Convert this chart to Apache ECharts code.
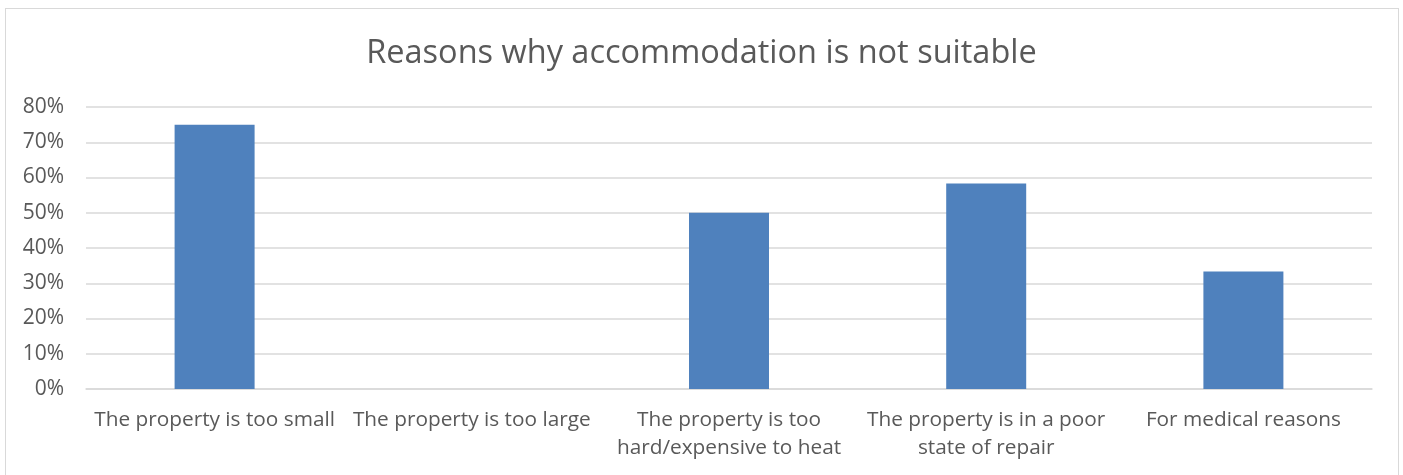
<!DOCTYPE html>
<html>
<head>
<meta charset="utf-8">
<script src="https://cdn.jsdelivr.net/npm/echarts@6/dist/echarts.min.js"></script>
<style>
  html, body { margin: 0; padding: 0; background: #fff; }
  #frame { position: absolute; left: 5px; top: 8px; width: 1394px; height: 475px; border: 1px solid #d9d9d9; box-sizing: border-box; }
  #chart { position: absolute; left: 0; top: 0; width: 1403px; height: 475px; }
</style>
</head>
<body>
<div id="frame"></div>
<div id="chart"></div>
<script>
const titleText = 'Reasons why accommodation is not suitable';
const categories = [
  'The property is too small',
  'The property is too large',
  'The property is too\nhard/expensive to heat',
  'The property is in a poor\nstate of repair',
  'For medical reasons'
];
const shares = [0.75, 0, 0.5, 0.5833, 0.3333];
const yTicks = [0, 0.1, 0.2, 0.3, 0.4, 0.5, 0.6, 0.7, 0.8];

const chart = echarts.init(document.getElementById('chart'), null, { renderer: 'canvas' });
const font = '"Open Sans", sans-serif';

chart.setOption({
  animation: false,
  title: {
    text: titleText,
    left: 'center',
    top: 32,
    textStyle: { fontFamily: font, fontSize: 32.5, fontWeight: 'normal', color: '#595959' }
  },
  grid: { left: 86, right: 31, top: 107, bottom: 86, containLabel: false },
  xAxis: {
    type: 'category',
    data: categories,
    axisLine: { show: true, lineStyle: { color: '#d9d9d9', width: 1.5 } },
    axisTick: { show: false },
    axisLabel: {
      interval: 0,
      margin: 17,
      fontFamily: font,
      fontSize: 20.8,
      color: '#595959',
      lineHeight: 28
    }
  },
  yAxis: {
    type: 'value',
    min: yTicks[0],
    max: yTicks[yTicks.length - 1],
    interval: 0.1,
    axisLine: { show: false },
    axisTick: { show: false },
    splitLine: { lineStyle: { color: '#d9d9d9', width: 1.5 } },
    axisLabel: {
      margin: 22,
      fontFamily: font,
      fontSize: 21,
      color: '#595959',
      formatter: v => Math.round(v * 100) + '%'
    }
  },
  series: [{
    type: 'bar',
    data: shares,
    barWidth: 80,
    itemStyle: { color: '#4f81bd' }
  }]
});
</script>
</body>
</html>
